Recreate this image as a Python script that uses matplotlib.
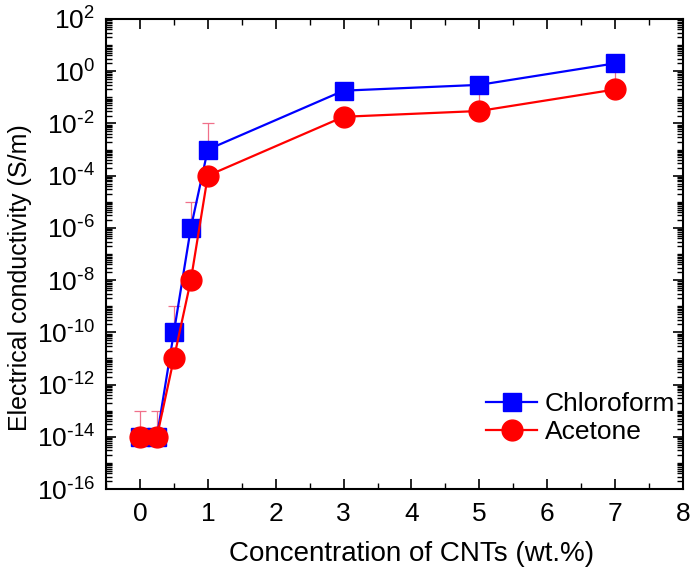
import math
import matplotlib
matplotlib.use("Agg")
import matplotlib.pyplot as plt
from matplotlib.ticker import LogLocator, FixedLocator, FuncFormatter, NullFormatter, MultipleLocator

plt.rcParams['font.family'] = ['Liberation Sans', 'DejaVu Sans']
plt.rcParams['mathtext.default'] = 'regular'

# CNT concentration (wt.%)
conc = [0, 0.25, 0.5, 0.75, 1, 3, 5, 7]
# Electrical conductivity (S/m)
chloroform = [1e-14, 1e-14, 1e-10, 1e-6, 1e-3, 0.18, 0.3, 2.0]
acetone = [1e-14, 1e-14, 1e-11, 1e-8, 1e-4, 0.018, 0.03, 0.2]
# Upper ends of the error bars
chloroform_err_top = [1e-13, 1e-13, 1e-9, 1e-5, 1e-2, 0.18, 0.3, 2.0]
acetone_err_top = [1e-14, 1e-14, 1e-11, 1e-8, 1e-4, 0.018, 0.54, 1.1]


def decade_label(v, pos):
    e = round(math.log10(v))
    if e < 0:
        return r'$10^{\text{-}%d}$' % (-e)
    return r'$10^{%d}$' % e


fig = plt.figure(figsize=(6.91, 5.72), dpi=100)
ax = fig.add_axes([0.1534, 0.1451, 0.835, 0.8217])

err_color = '#f0708a'
ax.errorbar(conc, chloroform,
            yerr=[[0] * len(conc), [t - v for t, v in zip(chloroform_err_top, chloroform)]],
            fmt='none', ecolor=err_color, elinewidth=0.9, capsize=4, capthick=0.9, zorder=1)
ax.errorbar(conc, acetone,
            yerr=[[0] * len(conc), [t - v for t, v in zip(acetone_err_top, acetone)]],
            fmt='none', ecolor=err_color, elinewidth=0.9, capsize=4, capthick=0.9, zorder=1)

ax.plot(conc, chloroform, color='#0000ff', lw=1.6, marker='s', ms=13.5,
        mec='#0000ff', mfc='#0000ff', label='Chloroform', zorder=3)
ax.plot(conc, acetone, color='#ff0000', lw=1.6, marker='o', ms=15,
        mec='#ff0000', mfc='#ff0000', label='Acetone', zorder=4)

ax.set_yscale('log')
ax.set_xlim(-0.5, 8)
ax.set_ylim(1e-16, 1e2)

ax.yaxis.set_major_locator(FixedLocator([10.0 ** e for e in range(-16, 3, 2)]))
ax.yaxis.set_major_formatter(FuncFormatter(decade_label))
ax.yaxis.set_minor_locator(LogLocator(base=10, subs=[1, 2, 3, 4, 5, 6, 7, 8, 9], numticks=100))
ax.yaxis.set_minor_formatter(NullFormatter())
ax.xaxis.set_major_locator(MultipleLocator(1))
ax.xaxis.set_minor_locator(MultipleLocator(0.5))

ax.tick_params(which='both', direction='in', top=True, right=True)
ax.tick_params(which='major', length=7, width=1.2, labelsize=19, pad=8)
ax.tick_params(which='minor', length=4, width=1.0)
ax.tick_params(axis='x', which='major', pad=9)
for s in ax.spines.values():
    s.set_linewidth(1.5)

ax.set_xlabel('Concentration of CNTs (wt.%)', fontsize=20, labelpad=12)
ax.xaxis.set_label_coords(0.529, -0.11)
ax.set_ylabel('Electrical conductivity (S/m)', fontsize=18)
ax.yaxis.set_label_coords(-0.128, 0.45)

ax.legend(loc='lower right', bbox_to_anchor=(0.986, 0.095), frameon=False, fontsize=19,
          handlelength=1.9, handletextpad=0.3, labelspacing=0.15,
          borderaxespad=0, borderpad=0)

fig.savefig('out.png', dpi=100)
